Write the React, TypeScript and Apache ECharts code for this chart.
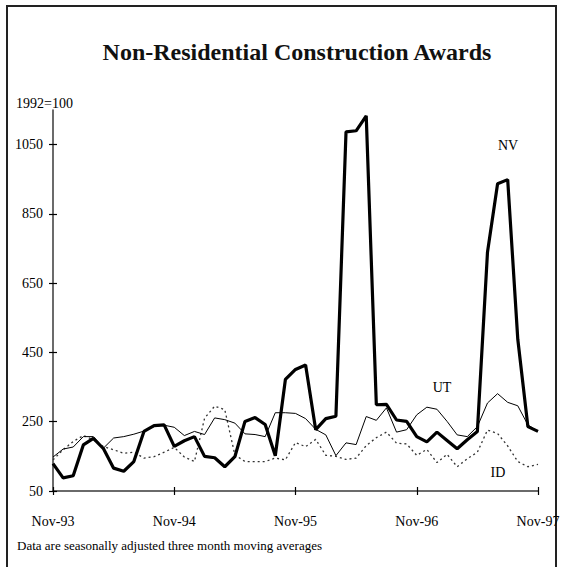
import React, { useEffect, useRef } from 'react';
import * as echarts from 'echarts';

const months = [
  'Nov-93', 'Dec-93', 'Jan-94', 'Feb-94', 'Mar-94', 'Apr-94', 'May-94', 'Jun-94', 'Jul-94', 'Aug-94', 'Sep-94', 'Oct-94',
  'Nov-94', 'Dec-94', 'Jan-95', 'Feb-95', 'Mar-95', 'Apr-95', 'May-95', 'Jun-95', 'Jul-95', 'Aug-95', 'Sep-95', 'Oct-95',
  'Nov-95', 'Dec-95', 'Jan-96', 'Feb-96', 'Mar-96', 'Apr-96', 'May-96', 'Jun-96', 'Jul-96', 'Aug-96', 'Sep-96', 'Oct-96',
  'Nov-96', 'Dec-96', 'Jan-97', 'Feb-97', 'Mar-97', 'Apr-97', 'May-97', 'Jun-97', 'Jul-97', 'Aug-97', 'Sep-97', 'Oct-97',
  'Nov-97',
];

const nv = [
  129, 88, 94, 183, 202, 172, 116, 107, 135, 222, 239, 241,
  179, 195, 207, 150, 146, 120, 149, 251, 262, 242, 152, 372,
  401, 414, 227, 259, 266, 1087, 1090, 1133, 299, 300, 255, 251,
  207, 192, 220, 196, 172, 198, 222, 739, 937, 949, 488, 236,
  222,
];

const ut = [
  148, 171, 177, 207, 207, 174, 203, 207, 214, 223, 236, 240,
  234, 210, 222, 213, 261, 256, 246, 215, 213, 207, 276, 276,
  274, 259, 228, 212, 152, 189, 184, 265, 254, 290, 220, 227,
  270, 292, 286, 251, 212, 207, 236, 304, 331, 306, 296, 241,
  222,
];

const id = [
  140, 169, 193, 210, 198, 178, 169, 159, 162, 145, 149, 162,
  176, 148, 135, 260, 295, 285, 154, 135, 135, 135, 145, 140,
  190, 178, 199, 153, 150, 141, 145, 181, 204, 220, 188, 186,
  153, 170, 132, 156, 120, 143, 162, 226, 216, 180, 135, 120,
  127,
];

const yTicks = [50, 250, 450, 650, 850, 1050];

const SERIF = 'Liberation Serif';

export default function App() {
  const ref = useRef<HTMLDivElement>(null);

  useEffect(() => {
    if (!ref.current) return;
    const chart = echarts.init(ref.current, null, { renderer: 'svg' });
    const axisColor = '#3a3a3a';
    chart.setOption({
      animation: false,
      backgroundColor: '#ffffff',
      title: {
        text: 'Non-Residential Construction Awards',
        left: 292,
        top: 35,
        textAlign: 'center',
        textStyle: { fontFamily: SERIF, fontWeight: 'bold', fontSize: 24, color: '#111' },
      },
      grid: { left: 53, right: 27, top: 110, bottom: 76, containLabel: false },
      xAxis: [
        {
          type: 'category',
          data: months,
          boundaryGap: false,
          axisLine: { show: true, lineStyle: { color: axisColor, width: 1.5 } },
          axisTick: { show: true, interval: 11, length: 4, lineStyle: { color: '#000', width: 1.2 } },
          axisLabel: { interval: 11, margin: 23, fontFamily: SERIF, fontSize: 14, color: '#000' },
          splitLine: { show: false },
        },
        {
          type: 'category',
          data: months,
          boundaryGap: false,
          position: 'bottom',
          axisLine: { show: false },
          axisTick: { show: true, inside: true, interval: 11, length: 4, lineStyle: { color: '#000', width: 1.2 } },
          axisLabel: { show: false },
          splitLine: { show: false },
        },
      ],
      yAxis: [
        {
          type: 'value',
          min: 50,
          max: 1150,
          axisLine: { show: true, lineStyle: { color: axisColor, width: 1.5 } },
          axisTick: { show: true, customValues: yTicks, length: 4, lineStyle: { color: '#000', width: 1.2 } },
          axisLabel: {
            customValues: yTicks,
            margin: 10,
            fontFamily: SERIF,
            fontSize: 14,
            color: '#000',
            formatter: (v: number) => String(v),
          },
          splitLine: { show: false },
        },
        {
          type: 'value',
          min: 50,
          max: 1150,
          position: 'left',
          axisLine: { show: false },
          axisTick: { show: true, inside: true, customValues: yTicks, length: 4, lineStyle: { color: '#000', width: 1.2 } },
          axisLabel: { show: false },
          splitLine: { show: false },
        },
      ],
      series: [
        {
          name: 'ID',
          type: 'line',
          data: id,
          symbol: 'none',
          lineStyle: { color: '#333', width: 1.3, type: [2, 3] },
        },
        {
          name: 'UT',
          type: 'line',
          data: ut,
          symbol: 'none',
          lineStyle: { color: '#000', width: 1 },
        },
        {
          name: 'NV',
          type: 'line',
          data: nv,
          symbol: 'none',
          lineStyle: { color: '#000', width: 3.2 },
        },
      ],
      graphic: [
        {
          type: 'rect',
          shape: { x: 7, y: 6, width: 549, height: 580 },
          style: { fill: 'none', stroke: '#222', lineWidth: 2 },
          silent: true,
        },
        {
          type: 'text',
          x: 16,
          y: 103,
          style: { text: '1992=100', font: `14px "${SERIF}"`, fill: '#000', textVerticalAlign: 'middle' },
        },
        {
          type: 'text',
          x: 508,
          y: 145,
          style: { text: 'NV', font: `14px "${SERIF}"`, fill: '#000', textAlign: 'center', textVerticalAlign: 'middle' },
        },
        {
          type: 'text',
          x: 442,
          y: 387,
          style: { text: 'UT', font: `14px "${SERIF}"`, fill: '#000', textAlign: 'center', textVerticalAlign: 'middle' },
        },
        {
          type: 'text',
          x: 498,
          y: 472,
          style: { text: 'ID', font: `14px "${SERIF}"`, fill: '#000', textAlign: 'center', textVerticalAlign: 'middle' },
        },
        {
          type: 'text',
          x: 17,
          y: 545,
          style: {
            text: 'Data are seasonally adjusted three month moving averages',
            font: `13px "${SERIF}"`,
            fill: '#000',
            textVerticalAlign: 'middle',
          },
        },
      ],
    });
    return () => chart.dispose();
  }, []);

  return (
    <div
      ref={ref}
      style={{ position: 'absolute', left: 0, top: 0, width: 565, height: 567 }}
    />
  );
}
